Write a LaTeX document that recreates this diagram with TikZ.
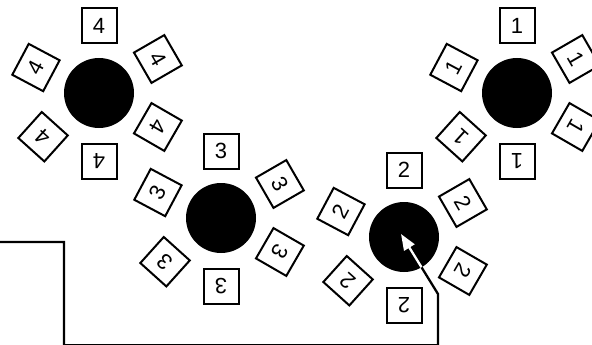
\documentclass[tikz,border=0pt]{standalone}
\usepackage{fontspec}
\setmainfont{Liberation Sans}
\usetikzlibrary{arrows.meta,calc}
\begin{document}
\begin{tikzpicture}[x=1pt,y=-1pt,
  numbox/.style={draw, line width=2pt, fill=white, minimum size=35pt, inner sep=0pt, font=\fontsize{22}{22}\selectfont},
  hub/.style={circle, fill=black, minimum size=70pt, inner sep=0pt},
  wire/.style={line width=2.3pt}]
\useasboundingbox (0,0) rectangle (592,345);
\foreach \n/\cx/\cy in {4/99/93, 3/221/218, 2/404/237, 1/517/93} {
  \node[hub] (c\n) at (\cx,\cy) {};
  \foreach \k/\pa/\ra/\da in {t/90/0/67, ur/30/-60/68, lr/-30/-120/68, b/-90/180/68, ll/218/138/71, ul/158/62/68}
    \node[numbox, rotate=\ra] (b\n\k) at ($(c\n)+(\pa:\da pt)$) {\n};
}
\coordinate (start) at (0,242);
\coordinate (k1) at (64,242);
\coordinate (k2) at (64,345.3);
\coordinate (k3) at (438,345.3);
\coordinate (k4) at (438,294);
\coordinate (tip) at (401,234);
\draw[wire] (start) -- (k1) -- (k2) -- (k3) -- (k4) -- (tip);
\begin{scope}
  \clip (c2) circle (35pt);
  \draw[wire, white, -{Triangle[length=16pt,width=12pt]}] (k4) -- (tip);
\end{scope}
\end{tikzpicture}
\end{document}
